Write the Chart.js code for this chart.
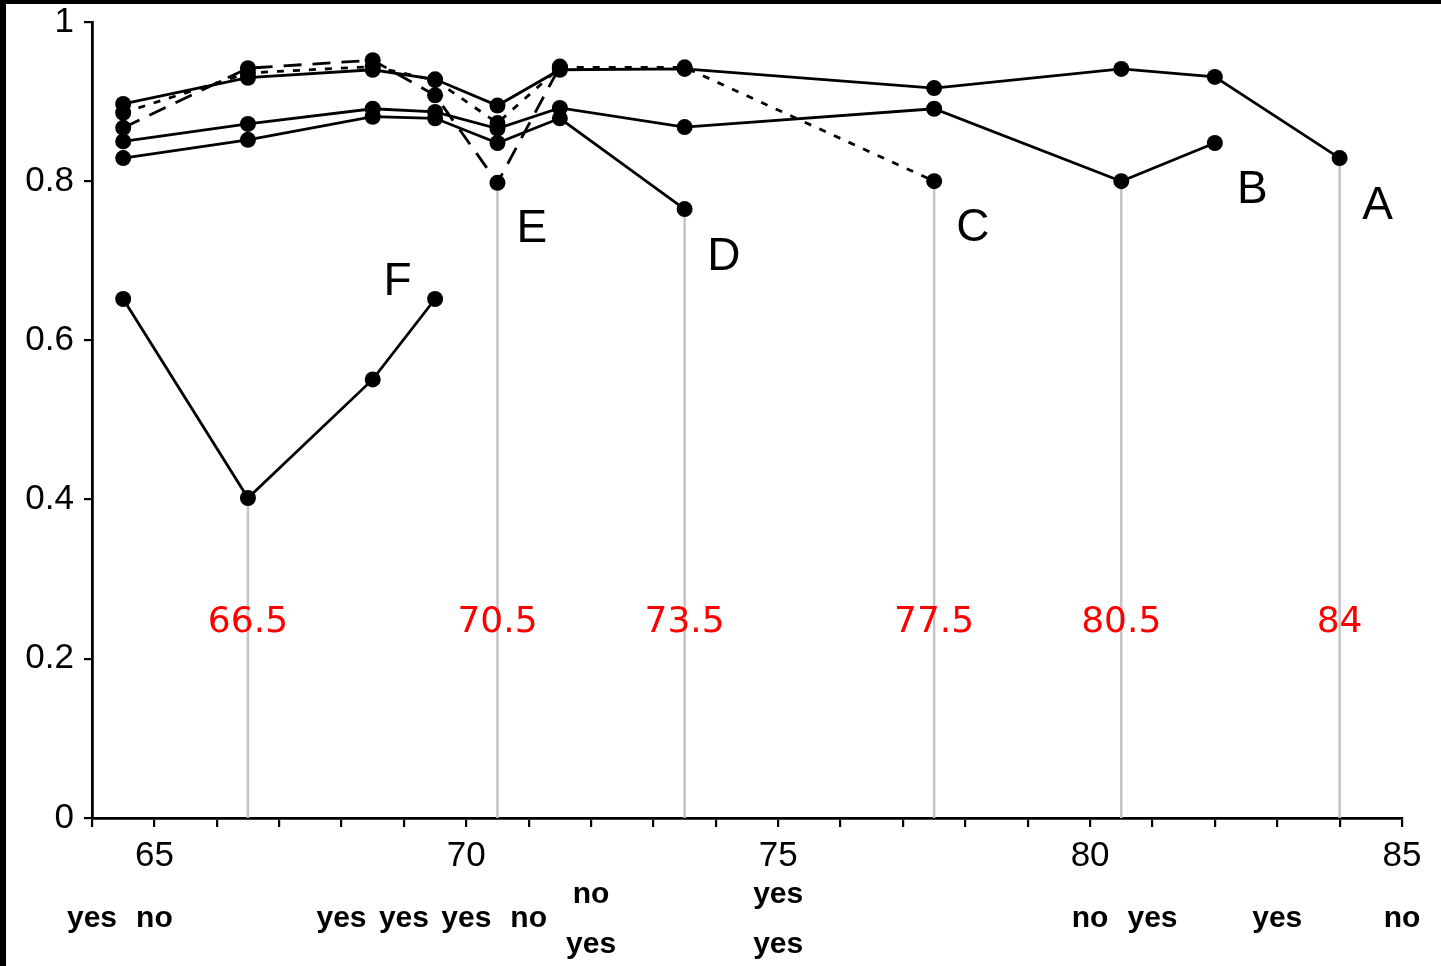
<!DOCTYPE html>
<html>
<head>
<meta charset="utf-8">
<script src="https://cdn.jsdelivr.net/npm/chart.js@4"></script>
<style>
  body { margin: 0; background: #fff; }
  #wrap { width: 1435px; height: 962px; border-top: 4px solid #000; border-left: 6px solid #000; }
</style>
</head>
<body>
<div id="wrap"><canvas id="chart" width="1435" height="962"></canvas></div>
<script>
// x positions shared by all series
const xs = [64.5, 66.5, 68.5, 69.5, 70.5, 71.5, 73.5, 77.5, 80.5, 82, 84];

const seriesA = [0.897, 0.930, 0.940, 0.928, 0.895, 0.940, 0.941, 0.917, 0.941, 0.931, 0.829];
const seriesB = [0.850, 0.872, 0.891, 0.887, 0.866, 0.892, 0.868, 0.891, 0.800, 0.848];
const seriesC = [0.886, 0.936, 0.944, 0.927, 0.873, 0.943, 0.943, 0.800];
const seriesD = [0.829, 0.852, 0.881, 0.879, 0.848, 0.879, 0.765];
const seriesE = [0.867, 0.942, 0.952, 0.908, 0.798, 0.944];
const seriesF = [0.652, 0.402, 0.551, 0.652];

// minima marked with grey drop lines and red labels
const minX = [66.5, 70.5, 73.5, 77.5, 80.5, 84];
const minY = [0.402, 0.798, 0.765, 0.800, 0.800, 0.829];
const minText = ['66.5', '70.5', '73.5', '77.5', '80.5', '84'];

// series name labels
const nameText = ['A', 'B', 'C', 'D', 'E', 'F'];
const nameX = [84.61, 82.6, 78.12, 74.13, 71.05, 68.9];
const nameY = [0.768, 0.789, 0.741, 0.705, 0.739, 0.673];

// yes / no flags under the axis (row 0 = upper, 1 = middle, 2 = lower)
const flagX = [64, 65, 68, 69, 70, 71, 72, 72, 75, 75, 80, 81, 83, 85];
const flagText = ['yes', 'no', 'yes', 'yes', 'yes', 'no', 'no', 'yes', 'yes', 'yes', 'no', 'yes', 'yes', 'no'];
const flagRow = [1, 1, 1, 1, 1, 1, 0, 2, 0, 2, 1, 1, 1, 1];

const pts = vals => vals.map((v, i) => ({ x: xs[i], y: v }));

function series(vals, dash) {
    return {
        data: pts(vals),
        borderColor: '#000',
        backgroundColor: '#000',
        borderWidth: 2.8,
        borderDash: dash,
        pointRadius: 8,
        pointBorderWidth: 0,
        pointBackgroundColor: '#000',
        tension: 0,
        order: 1
    };
}

const dropLines = [];
minX.forEach((x, i) => {
    dropLines.push({ x: x, y: 0 }, { x: x, y: minY[i] }, { x: x, y: null });
});

const textPlugin = {
    id: 'texts',
    afterDatasetsDraw(chart) {
        const c = chart.ctx;
        const sx = chart.scales.x, sy = chart.scales.y;
        c.save();
        c.textAlign = 'center';
        c.textBaseline = 'middle';

        c.fillStyle = '#ff0000';
        c.font = '36px "DejaVu Sans"';
        minX.forEach((x, i) => c.fillText(minText[i], sx.getPixelForValue(x), sy.getPixelForValue(0.245)));

        c.fillStyle = '#000';
        c.font = '46px "Liberation Sans"';
        nameText.forEach((t, i) => c.fillText(t, sx.getPixelForValue(nameX[i]), sy.getPixelForValue(nameY[i])));

        c.font = 'bold 30px "Liberation Sans"';
        const rowOff = [77, 101, 127];
        flagText.forEach((t, i) => c.fillText(t, sx.getPixelForValue(flagX[i]), chart.chartArea.bottom + rowOff[flagRow[i]]));
        c.restore();
    }
};

const ctx = document.getElementById('chart').getContext('2d');
const chart = new Chart(ctx, {
    type: 'line',
    data: {
        datasets: [
            series(seriesA, []),
            series(seriesB, []),
            series(seriesC, [7, 9]),
            series(seriesD, []),
            series(seriesE, [18, 11]),
            series(seriesF, []),
            {
                data: dropLines,
                borderColor: '#c4c4c4',
                borderWidth: 2.5,
                pointRadius: 0,
                spanGaps: false,
                order: 10
            }
        ]
    },
    options: {
        responsive: false,
        animation: false,
        devicePixelRatio: 1,
        layout: { padding: { top: 18, right: 39, left: 0, bottom: 0 } },
        scales: {
            x: {
                type: 'linear',
                min: 64,
                max: 85,
                afterFit: s => { s.height = 148; s.paddingLeft = 0; s.paddingRight = 0; },
                ticks: {
                    stepSize: 1,
                    autoSkip: false,
                    maxRotation: 0,
                    padding: 8,
                    color: '#000',
                    font: { family: 'Liberation Sans', size: 35 },
                    callback: v => (v % 5 === 0 ? v : '')
                },
                grid: { drawOnChartArea: false, color: '#000', lineWidth: 2.2, tickLength: 9 },
                border: { color: '#000', width: 2.8 }
            },
            y: {
                min: 0,
                max: 1,
                afterFit: s => { s.width = 86; s.paddingTop = 0; s.paddingBottom = 0; },
                ticks: {
                    stepSize: 0.2,
                    padding: 10,
                    color: '#000',
                    font: { family: 'Liberation Sans', size: 35 },
                    callback: v => String(parseFloat(v.toFixed(2)))
                },
                grid: { drawOnChartArea: false, color: '#000', lineWidth: 2.2, tickLength: 8 },
                border: { color: '#000', width: 2.8 }
            }
        },
        plugins: {
            legend: { display: false },
            tooltip: { enabled: false }
        }
    },
    plugins: [textPlugin]
});
</script>
</body>
</html>
